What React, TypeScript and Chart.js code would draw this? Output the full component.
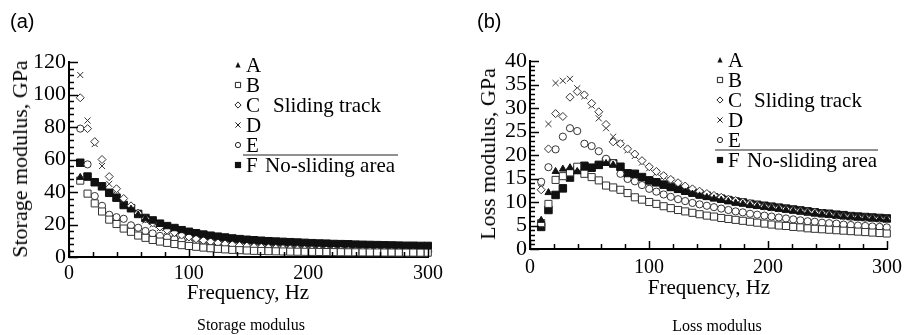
import React, { useEffect, useRef } from 'react';
import { Chart, registerables } from 'chart.js';

Chart.register(...registerables);

// Measurement frequencies (Hz)
const freqHz = [
  9.4, 15.5, 21.5, 27.6, 33.6, 39.7, 45.7, 51.8, 57.8, 63.9, 69.9, 76.0, 82.0, 88.1, 94.1,
  100.2, 106.2, 112.3, 118.3, 124.4, 130.4, 136.5, 142.5, 148.6, 154.6, 160.7, 166.7, 172.8,
  178.8, 184.9, 190.9, 197.0, 203.0, 209.1, 215.1, 221.2, 227.2, 233.3, 239.3, 245.4, 251.4,
  257.5, 263.5, 269.6, 275.6, 281.7, 287.7, 293.8, 299.8,
];

const seriesNames = ['A', 'B', 'C', 'D', 'E', 'F'];

// Storage modulus (GPa)
const storageA = [
  49, 49, 45.5, 43, 39, 36, 31.5, 29.5, 26, 23.5, 22, 20, 18.6, 17.4, 16.2, 15.2, 14.3, 13.5,
  12.8, 12.2, 11.7, 11.1, 10.7, 10.3, 10, 9.7, 9.4, 9.2, 9, 8.8, 8.6, 8.4, 8.2, 8.0, 7.9, 7.7,
  7.6, 7.5, 7.3, 7.2, 7.1, 7.0, 6.9, 6.8, 6.7, 6.6, 6.6, 6.5, 6.5,
];
const storageB = [
  47, 39, 33, 28, 23, 20.3, 17.5, 15.5, 13.2, 11.8, 10.5, 9.5, 8.7, 8.0, 7.3, 6.8, 6.3, 5.8,
  5.4, 5.0, 4.7, 4.4, 4.2, 4.0, 3.8, 3.7, 3.6, 3.5, 3.4, 3.3, 3.25, 3.2, 3.15, 3.1, 3.05, 3.0,
  2.95, 2.9, 2.9, 2.85, 2.8, 2.8, 2.75, 2.75, 2.7, 2.7, 2.7, 2.65, 2.65,
];
const storageC = [
  98, 79, 71, 60, 49.5, 42, 36, 31.5, 27, 23.5, 21, 18.5, 16.5, 15, 13.5, 12.3, 11.2, 10.2,
  9.4, 8.7, 8.1, 7.6, 7.1, 6.7, 6.3, 6.0, 5.7, 5.4, 5.2, 5.0, 4.8, 4.6, 4.5, 4.4, 4.3, 4.2,
  4.1, 4.0, 3.9, 3.85, 3.8, 3.75, 3.7, 3.65, 3.6, 3.55, 3.5, 3.45, 3.4,
];
const storageD = [
  112, 84, 69.5, 56, 45, 41, 35, 30, 26, 22.5, 20, 17.8, 16, 14.5, 13, 11.8, 10.8, 9.9, 9.1,
  8.4, 7.8, 7.3, 6.9, 6.5, 6.1, 5.8, 5.5, 5.3, 5.1, 4.9, 4.7, 4.5, 4.4, 4.3, 4.2, 4.1, 4.0,
  3.9, 3.8, 3.75, 3.7, 3.65, 3.6, 3.55, 3.5, 3.45, 3.4, 3.35, 3.3,
];
const storageE = [
  79, 57, 37.5, 31.5, 26, 24.5, 23.5, 19.5, 18, 16, 14.5, 13, 12, 11, 10.3, 9.6, 9, 8.4, 7.9,
  7.4, 7, 6.6, 6.3, 6, 5.8, 5.6, 5.4, 5.2, 5.0, 4.9, 4.8, 4.6, 4.5, 4.4, 4.3, 4.2, 4.1, 4.0,
  3.9, 3.85, 3.8, 3.7, 3.65, 3.6, 3.5, 3.45, 3.4, 3.35, 3.3,
];
const storageF = [
  58, 49.5, 46, 43.5, 39.5, 36.5, 32, 30, 26.5, 24, 22.5, 20.5, 19, 17.8, 16.5, 15.5, 14.6,
  13.8, 13.1, 12.5, 12, 11.4, 11, 10.6, 10.3, 10, 9.7, 9.5, 9.3, 9.1, 8.9, 8.7, 8.5, 8.3, 8.2,
  8.0, 7.9, 7.8, 7.6, 7.5, 7.4, 7.3, 7.2, 7.1, 7.0, 6.9, 6.9, 6.8, 6.8,
];

// Loss modulus (GPa)
const lossA = [
  6.1, 12, 16.5, 17, 17.3, 16.5, 17.3, 17, 17.6, 18.2, 17.9, 17.2, 15.8, 15.7, 15, 14.3, 13.9,
  13.4, 12.9, 12.5, 12.1, 11.7, 11.3, 11, 10.7, 10.4, 10.1, 9.8, 9.6, 9.3, 9.1, 8.9, 8.7, 8.5,
  8.3, 8.1, 7.9, 7.7, 7.5, 7.4, 7.2, 7.1, 6.9, 6.8, 6.7, 6.6, 6.5, 6.4, 6.3,
];
const lossB = [
  5.5, 9.6, 14.7, 15.5, 16.3, 17.5, 16.0, 15.3, 14.6, 13.5, 13.1, 12.6, 11.9, 11.0, 10.5,
  10.0, 9.6, 9.1, 8.7, 8.3, 8.0, 7.7, 7.4, 7.1, 6.9, 6.6, 6.4, 6.2, 6.0, 5.8, 5.6, 5.4, 5.2,
  5.0, 4.9, 4.7, 4.6, 4.4, 4.3, 4.2, 4.1, 4.0, 3.9, 3.8, 3.7, 3.6, 3.5, 3.4, 3.3,
];
const lossC = [
  12.6, 21.3, 28.8, 28.2, 32.3, 33.5, 32.8, 31, 29.2, 26.5, 22.8, 22.4, 21.3, 20.2, 18.8,
  17.5, 16.5, 15.6, 14.8, 14.1, 13.4, 12.8, 12.3, 11.8, 11.4, 11.0, 10.6, 10.3, 10.0, 9.7,
  9.4, 9.1, 8.9, 8.7, 8.5, 8.3, 8.1, 7.9, 7.8, 7.6, 7.4, 7.2, 7.0, 6.9, 6.8, 6.7, 6.6, 6.5,
  6.4,
];
const lossD = [
  13, 26.6, 35.3, 35.8, 36.2, 34.2, 32.5, 30.5, 27.8, 25.7, 23.9, 22.6, 21.0, 19.8, 18.4,
  17.2, 16.2, 15.4, 14.6, 13.9, 13.2, 12.6, 12.1, 11.6, 11.2, 10.8, 10.4, 10.1, 9.8, 9.5,
  9.2, 9.0, 8.8, 8.6, 8.4, 8.2, 8.0, 7.8, 7.7, 7.5, 7.3, 7.1, 6.9, 6.8, 6.7, 6.6, 6.5, 6.4,
  6.3,
];
const lossE = [
  14.3, 17.4, 21.2, 23.9, 25.7, 25.1, 22.4, 21.9, 20.8, 19.2, 18.3, 16.0, 14.9, 14.4, 13.6,
  12.8, 12.2, 11.6, 11.1, 10.6, 10.2, 9.8, 9.5, 9.2, 8.9, 8.6, 8.3, 8.0, 7.8, 7.5, 7.3, 7.1,
  6.9, 6.7, 6.5, 6.3, 6.1, 5.9, 5.8, 5.6, 5.5, 5.4, 5.2, 5.1, 5.0, 4.9, 4.8, 4.7, 4.6,
];
const lossF = [
  4.7, 8.3, 11.5, 12.9, 15.2, 16.8, 17.7, 17.3, 17.9, 18.6, 18.2, 17.5, 16.1, 16.0, 15.3,
  14.6, 14.2, 13.7, 13.2, 12.8, 12.4, 12.0, 11.6, 11.3, 11.0, 10.7, 10.4, 10.1, 9.9, 9.6, 9.4,
  9.2, 9.0, 8.8, 8.6, 8.4, 8.2, 8.0, 7.8, 7.6, 7.5, 7.3, 7.2, 7.0, 6.9, 6.8, 6.7, 6.6, 6.5,
];

// Axis tick labels
const freqTicks = [0, 100, 200, 300];
const storageTicks = [0, 20, 40, 60, 80, 100, 120];
const lossTicks = [0, 5, 10, 15, 20, 25, 30, 35, 40];

const SERIF = '"Liberation Serif", "Times New Roman", serif';
const SANS = '"Liberation Sans", Arial, sans-serif';
const INK = '#111';

type MarkerKind = 'triangle' | 'square' | 'diamond' | 'cross' | 'circle' | 'filledSquare';
const markerKinds: MarkerKind[] = ['triangle', 'square', 'diamond', 'cross', 'circle', 'filledSquare'];

function datasetStyle(kind: MarkerKind) {
  switch (kind) {
    case 'triangle':
      return { pointStyle: 'triangle', pointRadius: 4, backgroundColor: INK, borderColor: INK, pointBorderWidth: 1 };
    case 'square':
      return { pointStyle: 'rect', pointRadius: 5, backgroundColor: '#fff', borderColor: '#333', pointBorderWidth: 1 };
    case 'diamond':
      return { pointStyle: 'rectRot', pointRadius: 4, backgroundColor: '#fff', borderColor: '#333', pointBorderWidth: 1 };
    case 'cross':
      return { pointStyle: 'crossRot', pointRadius: 4.3, backgroundColor: '#333', borderColor: '#333', pointBorderWidth: 1 };
    case 'circle':
      return { pointStyle: 'circle', pointRadius: 3.6, backgroundColor: '#fff', borderColor: '#333', pointBorderWidth: 1 };
    default:
      return { pointStyle: 'rect', pointRadius: 5.3, backgroundColor: INK, borderColor: INK, pointBorderWidth: 1 };
  }
}

function drawLegendMarker(ctx: CanvasRenderingContext2D, kind: MarkerKind, x: number, y: number) {
  const s = 2.6;
  ctx.save();
  ctx.lineWidth = 1;
  ctx.strokeStyle = '#222';
  ctx.fillStyle = '#fff';
  ctx.beginPath();
  switch (kind) {
    case 'triangle':
      ctx.fillStyle = INK;
      ctx.moveTo(x, y - s - 0.5);
      ctx.lineTo(x + s, y + s);
      ctx.lineTo(x - s, y + s);
      ctx.closePath();
      ctx.fill();
      break;
    case 'square':
      ctx.rect(x - s, y - s, 2 * s, 2 * s);
      ctx.fill();
      ctx.stroke();
      break;
    case 'diamond':
      ctx.moveTo(x, y - s - 0.5);
      ctx.lineTo(x + s + 0.5, y);
      ctx.lineTo(x, y + s + 0.5);
      ctx.lineTo(x - s - 0.5, y);
      ctx.closePath();
      ctx.fill();
      ctx.stroke();
      break;
    case 'cross':
      ctx.moveTo(x - s, y - s);
      ctx.lineTo(x + s, y + s);
      ctx.moveTo(x + s, y - s);
      ctx.lineTo(x - s, y + s);
      ctx.stroke();
      break;
    case 'circle':
      ctx.arc(x, y, s, 0, Math.PI * 2);
      ctx.fill();
      ctx.stroke();
      break;
    default:
      ctx.fillStyle = INK;
      ctx.rect(x - s - 0.5, y - s - 0.5, 2 * s + 1, 2 * s + 1);
      ctx.fill();
  }
  ctx.restore();
}

interface PanelSpec {
  width: number;
  plotLeft: number;
  plotRight: number;
  plotTop: number;
  plotBottom: number;
  yMax: number;
  yTicks: number[];
  yMinorStep: number;
  yMajorStep: number;
  xLabelPad: number;
  series: number[][];
  legend: {
    markerX: number;
    letterX: number;
    firstBaseline: number;
    rowGap: number;
    slidingX: number;
    noSlidingX: number;
    lineX1: number;
    lineX2: number;
    lineY: number;
  };
}

function innerTicksPlugin(spec: PanelSpec) {
  return {
    id: 'innerTicks',
    afterDraw(chart: any) {
      const { ctx, chartArea, scales } = chart;
      const xs = scales.x;
      const ys = scales.y;
      ctx.save();
      ctx.strokeStyle = '#000';
      ctx.lineWidth = 1.5;
      for (let v = 0; v <= 300 + 1e-6; v += 20) {
        const px = Math.round(xs.getPixelForValue(v)) + 0.5;
        const len = v % 100 === 0 ? 8 : 5;
        ctx.beginPath();
        ctx.moveTo(px, chartArea.bottom);
        ctx.lineTo(px, chartArea.bottom - len);
        ctx.stroke();
      }
      const n = Math.round(spec.yMax / spec.yMinorStep);
      for (let i = 0; i <= n; i++) {
        const v = i * spec.yMinorStep;
        const py = Math.round(ys.getPixelForValue(v)) + 0.5;
        const major = Math.abs(v / spec.yMajorStep - Math.round(v / spec.yMajorStep)) < 1e-6;
        const len = major ? 9 : 5;
        ctx.beginPath();
        ctx.moveTo(chartArea.left, py);
        ctx.lineTo(chartArea.left + len, py);
        ctx.stroke();
      }
      ctx.restore();
    },
  };
}

function legendPlugin(spec: PanelSpec) {
  return {
    id: 'siteLegend',
    afterDraw(chart: any) {
      const { ctx } = chart;
      const L = spec.legend;
      ctx.save();
      ctx.font = `21px ${SERIF}`;
      ctx.fillStyle = '#000';
      ctx.textBaseline = 'alphabetic';
      ctx.textAlign = 'left';
      seriesNames.forEach((name, i) => {
        const base = L.firstBaseline + i * L.rowGap;
        drawLegendMarker(ctx, markerKinds[i], L.markerX, base - 7);
        ctx.fillText(name, L.letterX, base);
      });
      ctx.fillText('Sliding track', L.slidingX, L.firstBaseline + 2 * L.rowGap);
      ctx.fillText('No-sliding area', L.noSlidingX, L.firstBaseline + 5 * L.rowGap);
      ctx.strokeStyle = '#222';
      ctx.lineWidth = 1.2;
      ctx.beginPath();
      ctx.moveTo(L.lineX1, L.lineY);
      ctx.lineTo(L.lineX2, L.lineY);
      ctx.stroke();
      ctx.restore();
    },
  };
}

function buildChart(canvas: HTMLCanvasElement, spec: PanelSpec) {
  const datasets = seriesNames.map((name, i) => ({
    label: name,
    data: freqHz.map((f, k) => ({ x: f, y: spec.series[i][k] })),
    showLine: false,
    clip: false as const,
    ...datasetStyle(markerKinds[i]),
  }));
  return new Chart(canvas, {
    type: 'scatter',
    data: { datasets },
    options: {
      responsive: false,
      animation: false,
      devicePixelRatio: 1,
      layout: {
        padding: { left: 0, top: spec.plotTop, right: spec.width - spec.plotRight, bottom: 0 },
      },
      plugins: { legend: { display: false }, tooltip: { enabled: false } },
      scales: {
        x: {
          type: 'linear',
          min: 0,
          max: 300,
          afterBuildTicks: (s: any) => {
            s.ticks = freqTicks.map((v) => ({ value: v }));
          },
          afterFit: (s: any) => {
            s.height = 335 - spec.plotBottom;
          },
          grid: { display: false, drawTicks: false },
          border: { display: true, color: '#000', width: 2 },
          ticks: { font: { family: SERIF, size: 20 }, color: '#000', padding: spec.xLabelPad, maxRotation: 0, autoSkip: false },
        },
        y: {
          type: 'linear',
          min: 0,
          max: spec.yMax,
          afterBuildTicks: (s: any) => {
            s.ticks = spec.yTicks.map((v) => ({ value: v }));
          },
          afterFit: (s: any) => {
            s.width = spec.plotLeft;
          },
          grid: { display: false, drawTicks: false },
          border: { display: true, color: '#000', width: 2 },
          ticks: { font: { family: SERIF, size: 22 }, color: '#000', padding: 3, autoSkip: false },
        },
      },
    } as any,
    plugins: [innerTicksPlugin(spec), legendPlugin(spec)],
  });
}

function Panel({ spec, left }: { spec: PanelSpec; left: number }) {
  const ref = useRef<HTMLCanvasElement | null>(null);
  useEffect(() => {
    if (!ref.current) return;
    const chart = buildChart(ref.current, spec);
    return () => chart.destroy();
  }, [spec]);
  return (
    <canvas
      ref={ref}
      width={spec.width}
      height={335}
      style={{ position: 'absolute', left, top: 0, width: spec.width, height: 335 }}
    />
  );
}

const storagePanel: PanelSpec = {
  width: 454,
  plotLeft: 69,
  plotRight: 428,
  plotTop: 62,
  plotBottom: 257,
  yMax: 120,
  yTicks: storageTicks,
  yMinorStep: 4,
  yMajorStep: 20,
  xLabelPad: 5,
  series: [storageA, storageB, storageC, storageD, storageE, storageF],
  legend: {
    markerX: 238,
    letterX: 246,
    firstBaseline: 72,
    rowGap: 20,
    slidingX: 273,
    noSlidingX: 265,
    lineX1: 243,
    lineX2: 398,
    lineY: 155,
  },
};

const lossPanel: PanelSpec = {
  width: 455,
  plotLeft: 76,
  plotRight: 437,
  plotTop: 61,
  plotBottom: 249,
  yMax: 40,
  yTicks: lossTicks,
  yMinorStep: 1,
  yMajorStep: 5,
  xLabelPad: 7,
  series: [lossA, lossB, lossC, lossD, lossE, lossF],
  legend: {
    markerX: 266,
    letterX: 274,
    firstBaseline: 67,
    rowGap: 20,
    slidingX: 300,
    noSlidingX: 293,
    lineX1: 261,
    lineX2: 424,
    lineY: 150,
  },
};

const textBase: React.CSSProperties = {
  position: 'absolute',
  whiteSpace: 'nowrap',
  color: '#000',
  lineHeight: 1,
};

function RotatedTitle({ text, cx, cy }: { text: string; cx: number; cy: number }) {
  return (
    <div
      style={{
        ...textBase,
        left: cx,
        top: cy,
        fontFamily: SERIF,
        fontSize: 22,
        transform: 'translate(-50%, -50%) rotate(-90deg)',
      }}
    >
      {text}
    </div>
  );
}

function CenteredText({ text, cx, cy, size }: { text: string; cx: number; cy: number; size: number }) {
  return (
    <div
      style={{
        ...textBase,
        left: cx,
        top: cy,
        fontFamily: SERIF,
        fontSize: size,
        transform: 'translate(-50%, -50%)',
      }}
    >
      {text}
    </div>
  );
}

export default function App() {
  return (
    <div style={{ position: 'absolute', left: 0, top: 0, width: 909, height: 335, background: '#fff', overflow: 'hidden' }}>
      <Panel spec={storagePanel} left={0} />
      <Panel spec={lossPanel} left={454} />
      <div style={{ ...textBase, left: 10, top: 11, fontFamily: SANS, fontSize: 20 }}>(a)</div>
      <div style={{ ...textBase, left: 477, top: 11, fontFamily: SANS, fontSize: 20 }}>(b)</div>
      <RotatedTitle text="Storage modulus, GPa" cx={20} cy={159} />
      <RotatedTitle text="Loss modulus, GPa" cx={488} cy={154} />
      <CenteredText text="Frequency, Hz" cx={248} cy={292} size={21} />
      <CenteredText text="Frequency, Hz" cx={709} cy={287} size={21} />
      <CenteredText text="Storage modulus" cx={251} cy={325} size={16} />
      <CenteredText text="Loss modulus" cx={717} cy={326} size={16} />
    </div>
  );
}
